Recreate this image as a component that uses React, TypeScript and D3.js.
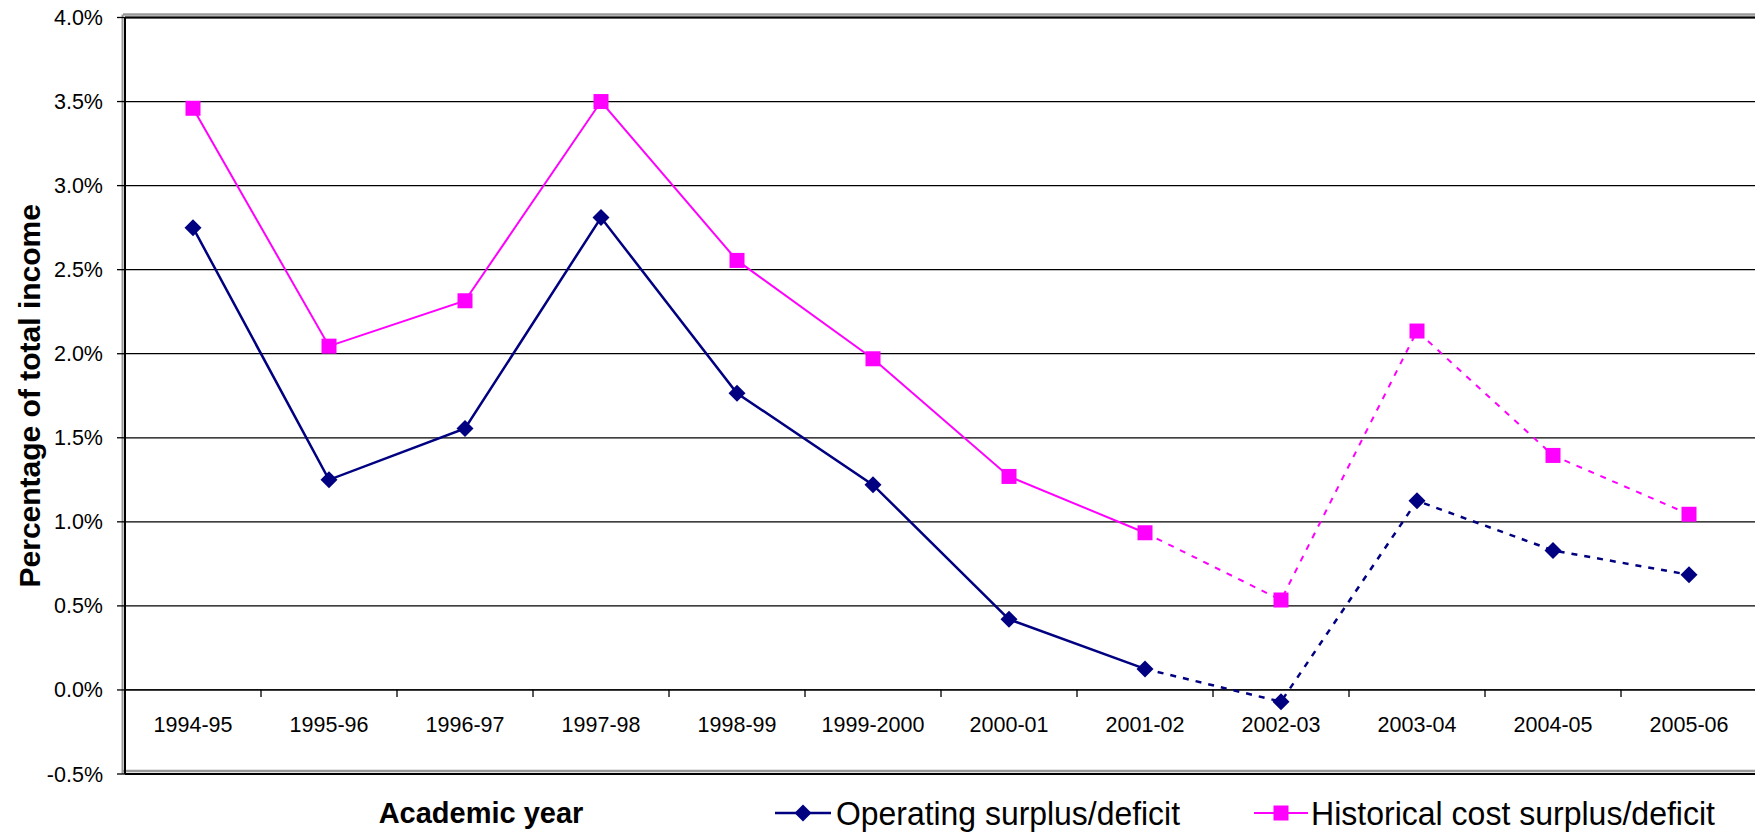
import React from "react";
import * as d3 from "d3";

const categories = ["1994-95","1995-96","1996-97","1997-98","1998-99","1999-2000","2000-01","2001-02","2002-03","2003-04","2004-05","2005-06"];
const operating = [2.75, 1.25, 1.555, 2.81, 1.765, 1.22, 0.42, 0.125, -0.07, 1.125, 0.83, 0.685];
const historical = [3.46, 2.045, 2.315, 3.50, 2.555, 1.97, 1.27, 0.935, 0.535, 2.135, 1.395, 1.045];
const yTicks = [-0.5, 0, 0.5, 1.0, 1.5, 2.0, 2.5, 3.0, 3.5, 4.0];
const solidEndIndex = 7; // solid up to 2001-02, dashed after

const W = 1755, H = 836;
const left = 125, right = 1757, top = 17.5, bottom = 774;
const FONT = "'Liberation Sans', Arial, sans-serif";

export default function App() {
  const x = d3.scaleBand<string>().domain(categories).range([left, right]).padding(0);
  const y = d3.scaleLinear().domain([-0.5, 4.0]).range([bottom, top]);
  const cx = (c: string) => (x(c) as number) + x.bandwidth() / 2;
  const line = d3.line<[string, number]>().x(d => cx(d[0])).y(d => y(d[1]));
  const fmt = (t: number) => d3.format(".1f")(t).replace("\u2212", "-") + "%";

  const series = [
    { name: "Operating surplus/deficit", values: operating, color: "#000080", width: 2.5, marker: "diamond" },
    { name: "Historical cost surplus/deficit", values: historical, color: "#FF00FF", width: 2, marker: "square" },
  ];

  const diamond = (px: number, py: number, s: number) =>
    `M${px},${py - s} L${px + s},${py} L${px},${py + s} L${px - s},${py} Z`;

  const y0 = y(0);

  return (
    <svg width={W} height={H} style={{ position: "absolute", left: 0, top: 0, background: "#fff" }} fontFamily={FONT}>
      {/* gridlines */}
      {yTicks.map(t => (
        <line key={"g" + t} x1={left} x2={right} y1={y(t)} y2={y(t)} stroke="#000" strokeWidth={1.3} />
      ))}
      {/* frame shadow lines */}
      <line x1={left - 2} x2={right} y1={top - 3} y2={top - 3} stroke="#999" strokeWidth={2.5} />
      <line x1={left - 2} x2={right} y1={bottom - 3} y2={bottom - 3} stroke="#999" strokeWidth={2.5} />
      <line x1={left - 2.5} x2={left - 2.5} y1={top - 3} y2={bottom} stroke="#999" strokeWidth={2} />
      {/* frame */}
      <line x1={left} x2={right} y1={top} y2={top} stroke="#000" strokeWidth={2} />
      <line x1={left} x2={right} y1={bottom} y2={bottom} stroke="#000" strokeWidth={2} />
      <line x1={left} x2={left} y1={top} y2={bottom} stroke="#000" strokeWidth={2} />
      {/* y ticks + labels */}
      {yTicks.map(t => (
        <g key={"yt" + t}>
          <line x1={left - 8} x2={left} y1={y(t)} y2={y(t)} stroke="#000" strokeWidth={1.3} />
          <text x={103} y={y(t)} dy="0.35em" textAnchor="end" fontSize={21.5} fill="#000">
            {fmt(t)}
          </text>
        </g>
      ))}
      {/* x axis at 0 */}
      <line x1={left} x2={right} y1={y0} y2={y0} stroke="#000" strokeWidth={1.3} />
      {categories.map(c => (
        <g key={"xt" + c}>
          <line x1={(x(c) as number) + x.bandwidth()} x2={(x(c) as number) + x.bandwidth()} y1={y0} y2={y0 + 7} stroke="#000" strokeWidth={1.3} />
          <text x={cx(c)} y={732} textAnchor="middle" fontSize={21.5} fill="#000">{c}</text>
        </g>
      ))}
      {/* series */}
      {series.map(s => {
        const pts: [string, number][] = categories.map((c, i) => [c, s.values[i]]);
        return (
          <g key={s.name}>
            <path d={line(pts.slice(0, solidEndIndex + 1)) || ""} fill="none" stroke={s.color} strokeWidth={s.width} />
            <path d={line(pts.slice(solidEndIndex)) || ""} fill="none" stroke={s.color} strokeWidth={s.width} strokeDasharray="6,7" />
            {pts.map(([c, v]) =>
              s.marker === "diamond" ? (
                <path key={c} d={diamond(cx(c), y(v), 8.5)} fill={s.color} />
              ) : (
                <rect key={c} x={cx(c) - 7.5} y={y(v) - 7.5} width={15} height={15} fill={s.color} />
              )
            )}
          </g>
        );
      })}
      {/* axis titles */}
      <text x={481} y={823} textAnchor="middle" fontSize={29} fontWeight="bold" fill="#000">Academic year</text>
      <text transform={`translate(40,${(top + bottom) / 2}) rotate(-90)`} textAnchor="middle" fontSize={30} fontWeight="bold" fill="#000">
        Percentage of total income
      </text>
      {/* legend */}
      <g>
        <line x1={775} x2={831} y1={813} y2={813} stroke="#000080" strokeWidth={2.5} />
        <path d={diamond(803, 813, 8.5)} fill="#000080" />
        <text x={836} y={825} fontSize={34} fill="#000" textLength={344} lengthAdjust="spacingAndGlyphs">Operating surplus/deficit</text>
        <line x1={1254} x2={1308} y1={813} y2={813} stroke="#FF00FF" strokeWidth={2} />
        <rect x={1281 - 7.5} y={813 - 7.5} width={15} height={15} fill="#FF00FF" />
        <text x={1311} y={825} fontSize={34} fill="#000" textLength={404} lengthAdjust="spacingAndGlyphs">Historical cost surplus/deficit</text>
      </g>
    </svg>
  );
}
